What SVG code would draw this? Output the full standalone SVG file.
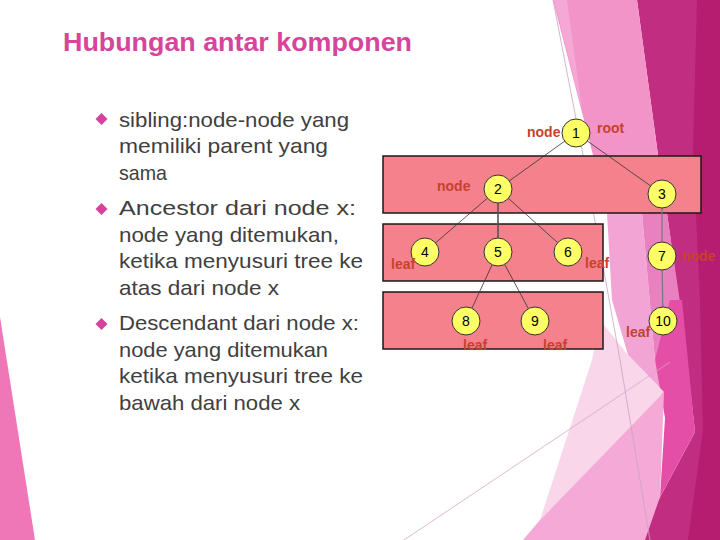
<svg xmlns="http://www.w3.org/2000/svg" width="720" height="540" viewBox="0 0 720 540">
<style>
.body{font-family:"Liberation Sans",Arial,sans-serif;font-size:21px;fill:#404040}
.title{font-family:"Liberation Sans",Arial,sans-serif;font-size:26px;font-weight:bold;fill:#d6449b}
.band{fill:#f5818d;stroke:#1a1a1a;stroke-width:1.5}
.edge{stroke:#333;stroke-width:0.8;fill:none}
.circ{fill:#ffff66;stroke:#333;stroke-width:1}
.num{font-family:"Liberation Sans",Arial,sans-serif;font-size:14px;fill:#000;text-anchor:middle}
.lab{font-family:"Liberation Sans",Arial,sans-serif;font-size:14px;font-weight:bold;fill:#c8412d}
.bul{fill:#d6439c}
</style>
<rect x="0" y="0" width="720" height="540" fill="#ffffff"/>
<g id="background">
<polygon points="0,317 35,540 0,540" fill="#f077b7"/>
<polygon points="637,0 720,0 720,540 637,540 695,432 687,360 667,213 658,155" fill="#c12d80"/>
<polygon points="697,0 720,0 720,540 688,540 703,430 700,300 693,150" fill="#b61c70"/>
<polygon points="553,0 637,0 658,155 667,213 607,213 593,155" fill="#f294c8"/>
<polygon points="554,0 567,0 582,110" fill="#f5a8d4"/>
<polygon points="607,213 642,213 655,360 664,392 628,355 612,300" fill="#f2a5d5"/>
<polygon points="642,213 667,213 684,330 687,360 655,360" fill="#e981c1"/>
<polygon points="655,360 670,300 682,300 695,432 660,497 665,418" fill="#e54ea6"/>
<polygon points="600,320 628,355 664,392 540,520 592,360" fill="#f9d6ea"/>
<polygon points="664,392 660,497 645,540 523,540 540,520" fill="#f4a9d6"/>
<polyline points="553,0 583,155 620,360 650,540" fill="none" stroke="#caa3c4" stroke-width="0.8"/>
<line x1="404" y1="540" x2="670" y2="362" stroke="#d3a7cc" stroke-width="0.8"/>
</g>
<g id="title">
<text class="title" x="63" y="51" textLength="349" lengthAdjust="spacingAndGlyphs">Hubungan antar komponen</text>
</g>
<g id="bullets">
<polygon class="bul" points="101.5,113 107.5,119 101.5,125 95.5,119"/>
<polygon class="bul" points="101.5,203 107.5,209 101.5,215 95.5,209"/>
<polygon class="bul" points="101.5,318 107.5,324 101.5,330 95.5,324"/>
<text class="body" x="119" y="127" textLength="230" lengthAdjust="spacingAndGlyphs">sibling:node-node yang</text>
<text class="body" x="119" y="153" textLength="209" lengthAdjust="spacingAndGlyphs">memiliki parent yang</text>
<text class="body" x="119" y="180" textLength="48" lengthAdjust="spacingAndGlyphs">sama</text>
<text class="body" x="119" y="215" textLength="237" lengthAdjust="spacingAndGlyphs">Ancestor dari node x:</text>
<text class="body" x="119" y="242" textLength="220" lengthAdjust="spacingAndGlyphs">node yang ditemukan,</text>
<text class="body" x="119" y="268" textLength="244" lengthAdjust="spacingAndGlyphs">ketika menyusuri tree ke</text>
<text class="body" x="119" y="295" textLength="160" lengthAdjust="spacingAndGlyphs">atas dari node x</text>
<text class="body" x="119" y="330" textLength="240" lengthAdjust="spacingAndGlyphs">Descendant dari node x:</text>
<text class="body" x="119" y="357" textLength="209" lengthAdjust="spacingAndGlyphs">node yang ditemukan</text>
<text class="body" x="119" y="383" textLength="244" lengthAdjust="spacingAndGlyphs">ketika menyusuri tree ke</text>
<text class="body" x="119" y="410" textLength="181" lengthAdjust="spacingAndGlyphs">bawah dari node x</text>
</g>
<g id="levels">
<rect class="band" x="383" y="156" width="318" height="57"/>
<rect class="band" x="383" y="224" width="220" height="57"/>
<rect class="band" x="383" y="292" width="220" height="57"/>
</g>
<g id="connectors">
<line class="edge" x1="576" y1="133" x2="498" y2="189"/>
<line class="edge" x1="576" y1="133" x2="662" y2="194"/>
<line class="edge" x1="498" y1="189" x2="425" y2="252"/>
<line x1="498" y1="189" x2="498" y2="252" stroke="#555" stroke-width="1.6"/>
<line class="edge" x1="498" y1="189" x2="568" y2="252"/>
<line x1="662" y1="194" x2="662" y2="256" stroke="#777" stroke-width="1.2"/>
<line x1="662" y1="256" x2="663" y2="321" stroke="#777" stroke-width="1.2"/>
<line class="edge" x1="498" y1="252" x2="466" y2="321"/>
<line class="edge" x1="498" y1="252" x2="535" y2="321"/>
</g>
<g id="node1"><circle class="circ" cx="576" cy="133" r="14"/><text class="num" x="576" y="138">1</text><text class="lab" x="527" y="137">node</text><text class="lab" x="597" y="133">root</text></g>
<g id="node2"><circle class="circ" cx="498" cy="189" r="14"/><text class="num" x="498" y="194">2</text><text class="lab" x="437" y="191">node</text></g>
<g id="node3"><circle class="circ" cx="662" cy="194" r="14"/><text class="num" x="662" y="199">3</text></g>
<g id="node4"><circle class="circ" cx="425" cy="252" r="14"/><text class="num" x="425" y="257">4</text><text class="lab" x="391" y="269">leaf</text></g>
<g id="node5"><circle class="circ" cx="498" cy="252" r="14"/><text class="num" x="498" y="257">5</text></g>
<g id="node6"><circle class="circ" cx="568" cy="252" r="14"/><text class="num" x="568" y="257">6</text><text class="lab" x="585" y="268">leaf</text></g>
<g id="node7"><circle class="circ" cx="662" cy="256" r="14"/><text class="num" x="662" y="261">7</text><text class="lab" x="682" y="261">node</text></g>
<g id="node8"><circle class="circ" cx="466" cy="321" r="14"/><text class="num" x="466" y="326">8</text><text class="lab" x="463" y="350">leaf</text></g>
<g id="node9"><circle class="circ" cx="535" cy="321" r="14"/><text class="num" x="535" y="326">9</text><text class="lab" x="543" y="350">leaf</text></g>
<g id="node10"><circle class="circ" cx="663" cy="321" r="14"/><text class="num" x="663" y="326">10</text><text class="lab" x="626" y="337">leaf</text></g>
</svg>
